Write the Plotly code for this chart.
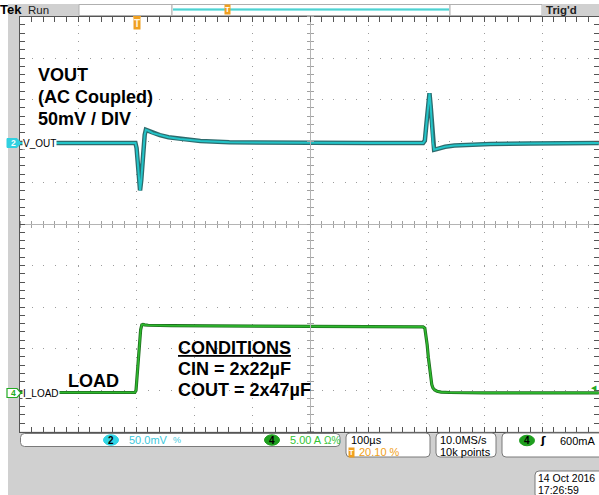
import plotly.graph_objects as go

# ---------------- data ----------------
# time in microseconds relative to trigger (100 us/div, trigger at 20.10 %)
t_vout = [-201, -50, -2, 0, 2, 4, 6, 8, 10, 12, 14, 16, 20, 28, 40, 55, 75, 110, 160, 250,
          400, 494, 497, 500, 503, 505, 507, 509, 511, 513, 516, 522, 532, 548, 570, 610, 680, 797]
v_out_mv = [0, 0, 0, -6, -25, -48, -57, -45, -25, -3, 10, 16, 15, 12, 9.5, 7, 5, 2.5, 1, 0.3,
            0, 0, 3, 25, 52, 60, 45, 20, 0, -8, -7.5, -6, -4.5, -3, -2, -1, -0.5, 0]

t_load = [-201, -3, -1, 1, 3, 5, 7, 9, 11, 14, 20, 60, 150, 300, 450, 494, 497, 499, 501, 503,
          505, 507, 509, 511, 514, 518, 525, 540, 600, 797]
i_load_a = [0.05, 0.05, 0.3, 2.0, 4.0, 6.0, 7.6, 8.2, 8.25, 8.2, 8.15, 8.1, 8.05, 8.0, 7.97, 7.95,
            7.8, 7.0, 5.8, 4.3, 3.0, 1.8, 1.0, 0.6, 0.35, 0.2, 0.1, 0.05, 0.0, 0.0]

# scope settings
time_per_div = 100      # us
trig_pos = 0.201        # fraction of record
ch2_scale, ch2_pos = 50.0, 1.95    # mV/div, divisions
ch4_scale, ch4_pos = 5.0, -4.07    # A/div, divisions
n_xdiv, n_ydiv = 10, 10

# ---------------- layout helpers ----------------
W, H = 599, 495
def PX(x):
    return x / W
def PY(y):
    return 1 - y / H

GX0, GX1 = 20, 600          # graticule pixels
GY0, GY1 = 16.5, 431.5
t0 = -trig_pos * n_xdiv * time_per_div
t1 = t0 + n_xdiv * time_per_div * (W - GX0) / (GX1 - GX0)

yr_v = [(-n_ydiv / 2 - ch2_pos) * ch2_scale, (n_ydiv / 2 - ch2_pos) * ch2_scale]
yr_i = [(-n_ydiv / 2 - ch4_pos) * ch4_scale, (n_ydiv / 2 - ch4_pos) * ch4_scale]

FONT = "Liberation Sans"
GRID = "#9c9c9c"
EDGE = "#555555"
CYAN = "#22c4c8"
GREEN = "#2db82d"
ORANGE = "#f0a020"
GREYBG = "#d0d0d0"

fig = go.Figure()

# waveforms
fig.add_trace(go.Scatter(x=t_vout, y=v_out_mv, mode="lines", xaxis="x", yaxis="y",
                         line=dict(color="#2d6b6d", width=4.5), hoverinfo="skip", showlegend=False))
fig.add_trace(go.Scatter(x=t_vout, y=v_out_mv, mode="lines", xaxis="x", yaxis="y",
                         line=dict(color=CYAN, width=2), hoverinfo="skip", showlegend=False))
fig.add_trace(go.Scatter(x=t_load, y=i_load_a, mode="lines", xaxis="x", yaxis="y2",
                         line=dict(color="#1f6e1f", width=3.2), hoverinfo="skip", showlegend=False))
fig.add_trace(go.Scatter(x=t_load, y=i_load_a, mode="lines", xaxis="x", yaxis="y2",
                         line=dict(color=GREEN, width=1.6), hoverinfo="skip", showlegend=False))
# empty traces so the crosshair axes are drawn
for xa, ya in [("x2", "y"), ("x3", "y"), ("x", "y3"), ("x", "y4")]:
    fig.add_trace(go.Scatter(x=[None], y=[None], xaxis=xa, yaxis=ya, hoverinfo="skip", showlegend=False))

xdom = [PX(GX0), 1]
ydom = [PY(GY1), PY(GY0)]
minor_x = time_per_div / 5
minor_y = ch2_scale / 5

common_x = dict(domain=xdom, range=[t0, t1], showticklabels=False, zeroline=False, fixedrange=True)
common_y = dict(domain=ydom, range=yr_v, showticklabels=False, zeroline=False, fixedrange=True)

fig.update_layout(
    width=W, height=H, margin=dict(l=0, r=0, t=0, b=0),
    paper_bgcolor=GREYBG, plot_bgcolor="white", showlegend=False,
    xaxis=dict(**common_x, anchor="y", showgrid=True, gridcolor=GRID, gridwidth=1.2,
               griddash="1px,7.3px", tick0=t0, dtick=time_per_div,
               ticks="inside", ticklen=5, tickcolor=EDGE, mirror="allticks",
               showline=True, linecolor=EDGE, linewidth=1,
               minor=dict(ticks="inside", ticklen=3, tickcolor=EDGE, dtick=minor_x, tick0=t0)),
    yaxis=dict(**common_y, anchor="x", showgrid=True, gridcolor=GRID, gridwidth=1.2,
               griddash="1px,10.6px", tick0=yr_v[0], dtick=ch2_scale,
               ticks="inside", ticklen=5, tickcolor=EDGE, mirror="allticks",
               showline=True, linecolor=EDGE, linewidth=1,
               minor=dict(ticks="inside", ticklen=3, tickcolor=EDGE, dtick=minor_y, tick0=yr_v[0])),
    yaxis2=dict(domain=ydom, range=yr_i, overlaying="y", anchor="x", showgrid=False,
                showticklabels=False, zeroline=False, showline=False, ticks="", fixedrange=True),
    xaxis2=dict(**{k: v for k, v in common_x.items() if k != "domain"}, overlaying="x", matches="x",
                anchor="free", position=PY(224), side="bottom", showgrid=False,
                showline=True, linecolor="#b4b4b4", ticks="outside", ticklen=3, tickcolor="#a0a0a0",
                tick0=t0, dtick=minor_x),
    xaxis3=dict(**{k: v for k, v in common_x.items() if k != "domain"}, overlaying="x", matches="x",
                anchor="free", position=PY(224), side="top", showgrid=False,
                showline=False, ticks="outside", ticklen=3, tickcolor="#a0a0a0",
                tick0=t0, dtick=minor_x),
    yaxis3=dict(**{k: v for k, v in common_y.items() if k != "domain"}, overlaying="y", matches="y",
                anchor="free", position=PX(310), side="left", showgrid=False,
                showline=True, linecolor="#b4b4b4", ticks="outside", ticklen=3, tickcolor="#a0a0a0",
                tick0=yr_v[0], dtick=minor_y),
    yaxis4=dict(**{k: v for k, v in common_y.items() if k != "domain"}, overlaying="y", matches="y",
                anchor="free", position=PX(310), side="right", showgrid=False,
                showline=False, ticks="outside", ticklen=3, tickcolor="#a0a0a0",
                tick0=yr_v[0], dtick=minor_y),
)

shapes = []
annots = []

def rect(x0, y0, x1, y1, fill, line="rgba(0,0,0,0)", lw=1):
    shapes.append(dict(type="rect", xref="paper", yref="paper", x0=PX(x0), x1=PX(x1),
                       y0=PY(y1), y1=PY(y0), fillcolor=fill, line=dict(color=line, width=lw),
                       layer="above"))

def rrect(x0, y0, x1, y1, fill="white", line="#7a7a7a", r=4):
    pts = (f"M {PX(x0 + r)},{PY(y0)} L {PX(x1 - r)},{PY(y0)} Q {PX(x1)},{PY(y0)} {PX(x1)},{PY(y0 + r)} "
           f"L {PX(x1)},{PY(y1 - r)} Q {PX(x1)},{PY(y1)} {PX(x1 - r)},{PY(y1)} "
           f"L {PX(x0 + r)},{PY(y1)} Q {PX(x0)},{PY(y1)} {PX(x0)},{PY(y1 - r)} "
           f"L {PX(x0)},{PY(y0 + r)} Q {PX(x0)},{PY(y0)} {PX(x0 + r)},{PY(y0)} Z")
    shapes.append(dict(type="path", xref="paper", yref="paper", path=pts, fillcolor=fill,
                       line=dict(color=line, width=1), layer="above"))

def ellipse(cx, cy, w, h, fill, line=None):
    shapes.append(dict(type="circle", xref="paper", yref="paper", x0=PX(cx - w / 2), x1=PX(cx + w / 2),
                       y0=PY(cy + h / 2), y1=PY(cy - h / 2), fillcolor=fill,
                       line=dict(color=line or fill, width=1), layer="above"))

def text(x, y, s, size=10.5, color="black", bold=False, xanchor="left", bg=None, family=FONT):
    a = dict(x=PX(x), y=PY(y), xref="paper", yref="paper", text=(f"<b>{s}</b>" if bold else s),
             showarrow=False, xanchor=xanchor, yanchor="middle",
             font=dict(family=family, size=size, color=color), borderpad=0)
    if bg:
        a["bgcolor"] = bg
    annots.append(a)

# white strip at the far left and very top
rect(0, 0, 8, H, "white")
rect(0, 0, W, 4, "white")

# ---- top status bar ----
rect(8, 4, 79, 15.5, GREYBG)
rect(79, 4.5, 172, 15.5, "white", "#b0b0b0", 1)
rect(172, 4.5, 450, 15.5, "white", "#b0b0b0", 1)
shapes.append(dict(type="line", xref="paper", yref="paper", x0=PX(173), x1=PX(449), y0=PY(9.5), y1=PY(9.5),
                   line=dict(color="#8ee6e6", width=3), layer="above"))
shapes.append(dict(type="line", xref="paper", yref="paper", x0=PX(173), x1=PX(449), y0=PY(9.5), y1=PY(9.5),
                   line=dict(color="#4fd0d0", width=1), layer="above"))
rect(450, 4.5, 542, 15.5, "white", "#b0b0b0", 1)
rect(542, 4, W, 15.5, GREYBG)
text(-1, 9.5, "Tek", 13, "black", bold=True)
text(27, 9.5, "Run", 11.5, "#222222")
text(545, 9.5, "Trig'd", 11.5, "#222222", bold=True)
text(227.5, 9.5, "T", 8, "white", bold=True, xanchor="center", bg=ORANGE)

# trigger position marker on the graticule
shapes.append(dict(type="path", xref="paper", yref="paper",
                   path=f"M {PX(133)},{PY(16.5)} L {PX(141)},{PY(16.5)} L {PX(137)},{PY(20)} Z",
                   fillcolor=ORANGE, line=dict(color=ORANGE, width=1), layer="above"))
text(137, 24, "T", 10, "#fff4e0", bold=True, xanchor="center", bg=ORANGE)

# ---- channel markers ----
ch2_path = (f"M {PX(7)},{PY(138.5)} L {PX(17)},{PY(138.5)} L {PX(21)},{PY(143)} "
            f"L {PX(17)},{PY(147.5)} L {PX(7)},{PY(147.5)} Z")
shapes.append(dict(type="path", xref="paper", yref="paper", path=ch2_path, fillcolor="#30d0e0",
                   line=dict(color="#30d0e0", width=1), layer="above"))
text(13, 143, "2", 8.5, "white", bold=True, xanchor="center")
text(22, 143, "V_OUT", 10, "black", bg="white")

ch4_path = (f"M {PX(7)},{PY(388.5)} L {PX(17)},{PY(388.5)} L {PX(21)},{PY(393)} "
            f"L {PX(17)},{PY(397.5)} L {PX(7)},{PY(397.5)} Z")
shapes.append(dict(type="path", xref="paper", yref="paper", path=ch4_path, fillcolor="white",
                   line=dict(color="#22aa22", width=1.2), layer="above"))
text(13, 393, "4", 8.5, "#22aa22", bold=True, xanchor="center")
text(22, 393, "I_LOAD", 10, "black", bg="white")

# trigger level marker at right edge
text(598, 387.5, "◀", 7, "#22aa22", xanchor="right", family="DejaVu Sans")

# ---- on-screen notes ----
text(37, 75, "VOUT", 18, "black", bold=True)
text(37, 97, "(AC Coupled)", 18, "black", bold=True)
text(37, 118.5, "50mV / DIV", 18, "black", bold=True)
text(67, 381, "LOAD", 18, "black", bold=True)
text(177, 347.5, "<u>CONDITIONS</u>", 18, "black", bold=True)
text(177, 369, "CIN = 2x22µF", 18, "black", bold=True)
text(177, 390, "COUT = 2x47µF", 18, "black", bold=True)

# ---- bottom readouts ----
rrect(20.5, 433.5, 340, 446.5)
ellipse(111, 440, 15, 10.5, "#30d4e4")
text(111, 440, "2", 10, "black", bold=True, xanchor="center")
text(128, 440, "50.0mV", 11, "#3cc8dc")
text(172, 440, "%", 9, "#3cc8dc")
ellipse(272, 440, 15, 10.5, "#1e9e1e")
text(272, 440, "4", 10, "black", bold=True, xanchor="center")
text(289, 440, "5.00 A", 11, "#33c433")
text(323, 440, "Ω%", 10, "#33c433")

rrect(346, 433, 430, 457)
text(350, 440, "100µs", 11, "black")
text(351, 452, "T", 7.5, "white", bold=True, xanchor="center", bg=ORANGE)
text(358, 452, "20.10 %", 11, ORANGE)

rrect(436, 433, 496, 457)
text(439, 440, "10.0MS/s", 11, "black")
text(439, 452, "10k points", 11, "black")

rrect(502, 433, 606, 457)
ellipse(527, 440.5, 15, 10.5, "#1e9e1e")
text(527, 440.5, "4", 10, "black", bold=True, xanchor="center")
text(543, 440.5, "ʃ", 11, "black", bold=True, xanchor="center", family="DejaVu Sans")
text(597, 440.5, "600mA", 11, "black", xanchor="right")

rrect(535, 471, 606, 498)
text(537, 477.5, "14 Oct\u00a02016", 10.5, "black")
text(537, 489.5, "17:26:59", 10.5, "black")

fig.update_layout(shapes=shapes, annotations=annots)
fig.write_html("out.html", config={"displayModeBar": False})

# remove the default page margin so the figure fills the window exactly
with open("out.html", "r", encoding="utf-8") as f:
    html = f.read()
html = html.replace("<head>", "<head><style>html,body{margin:0;padding:0;overflow:hidden;}</style>", 1)
with open("out.html", "w", encoding="utf-8") as f:
    f.write(html)
